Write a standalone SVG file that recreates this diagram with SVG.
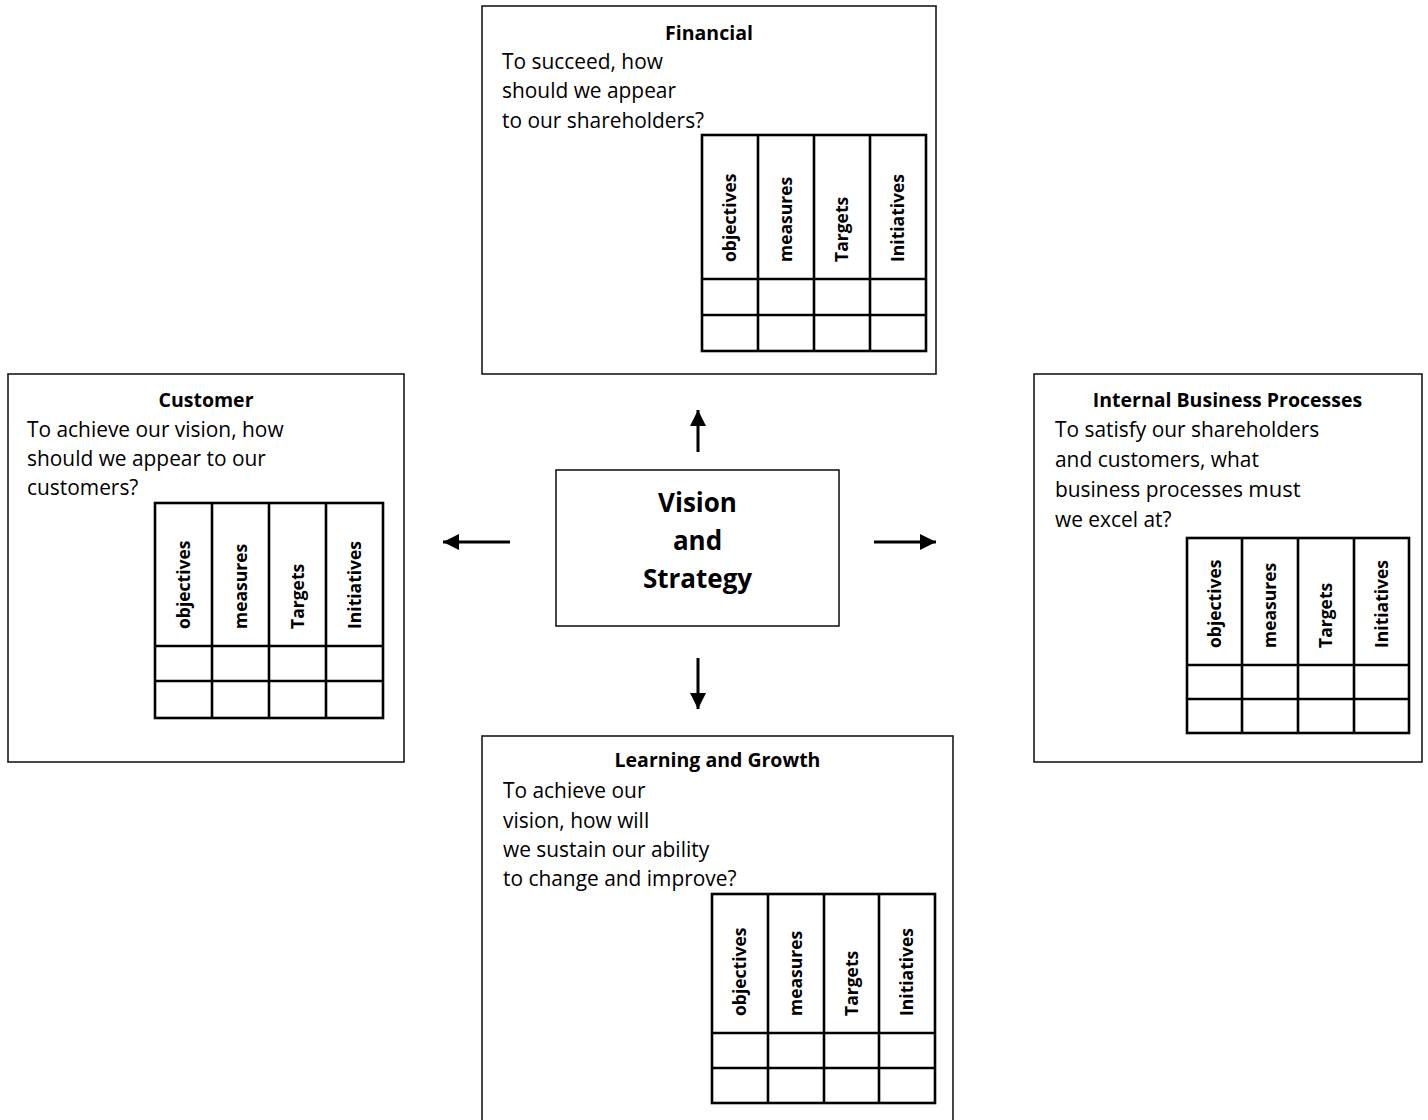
<svg xmlns="http://www.w3.org/2000/svg" width="1428" height="1120" viewBox="0 0 1428 1120">
  <style>
    .box { fill: #ffffff; stroke: #1a1a1a; stroke-width: 1.6; }
    .grid { fill: none; stroke: #000000; stroke-width: 2.6; }
    .title { font-family: "Open Sans", "Liberation Sans", sans-serif; font-weight: bold; font-size: 19.5px; fill: #000; text-anchor: middle; }
    .body { font-family: "Open Sans", "Liberation Sans", sans-serif; font-size: 20.9px; fill: #000; }
    .col { font-family: "Open Sans", "Liberation Sans", sans-serif; font-weight: bold; font-size: 17.5px; fill: #000; }
    .core { font-family: "Open Sans", "Liberation Sans", sans-serif; font-weight: bold; font-size: 26px; fill: #000; text-anchor: middle; }
    .arrow { stroke: #000; stroke-width: 3; fill: none; marker-end: url(#head); }
  </style>
  <defs>
    <marker id="head" markerUnits="userSpaceOnUse" markerWidth="16" markerHeight="16" refX="16" refY="8" orient="auto">
      <path d="M0,0 L16,8 L0,16 Z" fill="#000"/>
    </marker>
  </defs>

  <rect width="1428" height="1120" fill="#ffffff"/>

  <!-- Financial perspective -->
  <g id="financial">
    <rect class="box" x="482" y="6" width="454" height="368"/>
    <text class="title" x="709" y="40">Financial</text>
    <text class="body" x="502" y="69">To succeed, how</text>
    <text class="body" x="502" y="98">should we appear</text>
    <text class="body" x="502" y="128">to our shareholders?</text>
    <g class="grid">
      <rect x="702" y="135" width="224" height="216"/>
      <path d="M758,135 V351 M814,135 V351 M870,135 V351 M702,279 H926 M702,315 H926"/>
    </g>
    <text class="col" transform="translate(736,262) rotate(-90)">objectives</text>
    <text class="col" transform="translate(792,262) rotate(-90)">measures</text>
    <text class="col" transform="translate(848,262) rotate(-90)">Targets</text>
    <text class="col" transform="translate(904,262) rotate(-90)">Initiatives</text>
  </g>

  <!-- Customer perspective -->
  <g id="customer">
    <rect class="box" x="8" y="374" width="396" height="388"/>
    <text class="title" x="206" y="407">Customer</text>
    <text class="body" x="27" y="437">To achieve our vision, how</text>
    <text class="body" x="27" y="466">should we appear to our</text>
    <text class="body" x="27" y="495">customers?</text>
    <g class="grid">
      <rect x="155" y="503" width="228" height="215"/>
      <path d="M212,503 V718 M269,503 V718 M326,503 V718 M155,646 H383 M155,681 H383"/>
    </g>
    <text class="col" transform="translate(189.5,629) rotate(-90)">objectives</text>
    <text class="col" transform="translate(246.5,629) rotate(-90)">measures</text>
    <text class="col" transform="translate(303.5,629) rotate(-90)">Targets</text>
    <text class="col" transform="translate(360.5,629) rotate(-90)">Initiatives</text>
  </g>

  <!-- Vision and Strategy -->
  <g id="vision">
    <rect class="box" x="556" y="470" width="283" height="156"/>
    <text class="core" x="697.5" y="512">Vision</text>
    <text class="core" x="697.5" y="550">and</text>
    <text class="core" x="697.5" y="588">Strategy</text>
  </g>

  <!-- Internal Business Processes perspective -->
  <g id="internal">
    <rect class="box" x="1034" y="374" width="388" height="388"/>
    <text class="title" x="1227.5" y="407">Internal Business Processes</text>
    <text class="body" x="1055" y="437">To satisfy our shareholders</text>
    <text class="body" x="1055" y="467">and customers, what</text>
    <text class="body" x="1055" y="497">business processes <tspan font-size="22px">must</tspan></text>
    <text class="body" x="1055" y="527">we excel at?</text>
    <g class="grid">
      <rect x="1187" y="538" width="222" height="195"/>
      <path d="M1242,538 V733 M1298,538 V733 M1354,538 V733 M1187,665 H1409 M1187,699 H1409"/>
    </g>
    <text class="col" transform="translate(1220.5,648) rotate(-90)">objectives</text>
    <text class="col" transform="translate(1276,648) rotate(-90)">measures</text>
    <text class="col" transform="translate(1332,648) rotate(-90)">Targets</text>
    <text class="col" transform="translate(1387.5,648) rotate(-90)">Initiatives</text>
  </g>

  <!-- Learning and Growth perspective -->
  <g id="learning">
    <rect class="box" x="482" y="736" width="471" height="400"/>
    <text class="title" x="717.5" y="767">Learning and Growth</text>
    <text class="body" x="503" y="798">To achieve our</text>
    <text class="body" x="503" y="828">vision, how will</text>
    <text class="body" x="503" y="857">we sustain our ability</text>
    <text class="body" x="503" y="886">to change and improve?</text>
    <g class="grid">
      <rect x="712" y="894" width="223" height="209"/>
      <path d="M768,894 V1103 M824,894 V1103 M879,894 V1103 M712,1033 H935 M712,1068 H935"/>
    </g>
    <text class="col" transform="translate(746,1016) rotate(-90)">objectives</text>
    <text class="col" transform="translate(802,1016) rotate(-90)">measures</text>
    <text class="col" transform="translate(857.5,1016) rotate(-90)">Targets</text>
    <text class="col" transform="translate(913,1016) rotate(-90)">Initiatives</text>
  </g>

  <!-- Connectors from the centre outwards -->
  <g id="connectors">
    <line class="arrow" x1="698" y1="452" x2="698" y2="410"/>
    <line class="arrow" x1="510" y1="542" x2="443" y2="542"/>
    <line class="arrow" x1="874" y1="542" x2="936" y2="542"/>
    <line class="arrow" x1="698" y1="658" x2="698" y2="709"/>
  </g>
</svg>
